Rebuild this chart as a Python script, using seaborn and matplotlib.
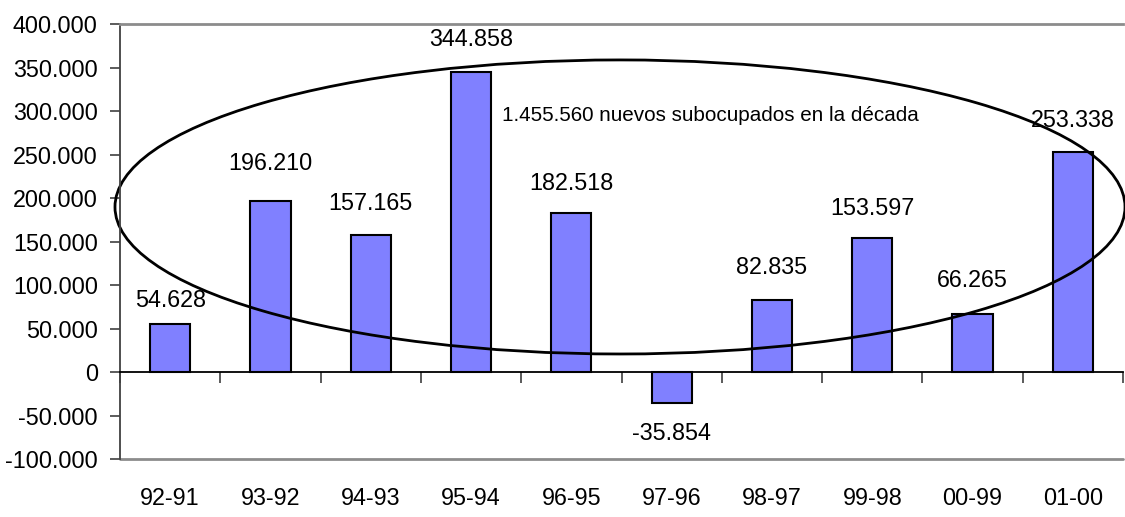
import matplotlib
matplotlib.use("Agg")
import matplotlib.pyplot as plt
import seaborn as sns
import numpy as np
from matplotlib.patches import Ellipse
from matplotlib.ticker import FuncFormatter, FixedLocator

categories = ["92-91", "93-92", "94-93", "95-94", "96-95", "97-96", "98-97", "99-98", "00-99", "01-00"]
values = [54628, 196210, 157165, 344858, 182518, -35854, 82835, 153597, 66265, 253338]
value_labels = ["54.628", "196.210", "157.165", "344.858", "182.518", "-35.854", "82.835", "153.597", "66.265", "253.338"]
annotation_text = "1.455.560 nuevos subocupados en la década"

sns.set_style("white")
plt.rcParams['font.family'] = ['Liberation Sans', 'DejaVu Sans']
plt.rcParams['text.color'] = 'black'
plt.rcParams['xtick.color'] = 'black'
plt.rcParams['ytick.color'] = 'black'

fig = plt.figure(figsize=(11.25, 5.17), dpi=100)
ax = fig.add_axes([120/1125, 1 - 459/517, 1003/1125, 435/517])

sns.barplot(x=categories, y=values, color="#8080FF", saturation=1,
            edgecolor="black", linewidth=1.5, width=0.4, ax=ax)

ax.set_xlim(-0.5, 9.5)
ax.set_ylim(-100000, 400000)
ax.set_yticks(np.arange(-100000, 400001, 50000))

def fmt(v, pos):
    v = int(round(v))
    if v == 0:
        return "0"
    s = f"{abs(v):,}".replace(",", ".")
    return ("-" if v < 0 else "") + s
ax.yaxis.set_major_formatter(FuncFormatter(fmt))
ax.tick_params(axis="y", which="major", direction="out", length=7, width=1.2,
               color="#404040", labelcolor="black", labelsize=16.8, pad=9, left=True)

# x axis at zero
ax.spines["bottom"].set_position(("data", 0))
ax.spines["bottom"].set_color("black")
ax.spines["bottom"].set_linewidth(1.3)
ax.spines["left"].set_color("#404040")
ax.spines["left"].set_linewidth(1.3)
ax.spines["top"].set_color("#8c8c8c")
ax.spines["top"].set_linewidth(2)
ax.spines["right"].set_visible(False)
ax.axhline(-100000, color="#8c8c8c", lw=2, clip_on=False)

ax.xaxis.set_minor_locator(FixedLocator(np.arange(-0.5, 9.6, 1.0)))
ax.tick_params(axis="x", which="minor", direction="out", length=8, width=1.2,
               color="#404040", bottom=True)
ax.tick_params(axis="x", which="major", length=0, labelsize=16.8, labelcolor="black", pad=83)
ax.set_xlabel("")
ax.set_ylabel("")

offsets_px = [24, 38, 32, 32, 30, -30, 32, 30, 34, 31]
for i, (v, lab) in enumerate(zip(values, value_labels)):
    ax.annotate(lab, (i, v), xytext=(0, offsets_px[i] * 0.72), textcoords="offset points",
                ha="center", va="center", fontsize=16.8, color="black", annotation_clip=False)

ell = Ellipse((4.485, 189700), width=10.07, height=338000, fill=False,
              edgecolor="black", lw=2, clip_on=False)
ax.add_patch(ell)

ax.text(3.31, 295000, annotation_text, ha="left", va="center", fontsize=14.9, color="black")

fig.savefig("out.png", dpi=100)
